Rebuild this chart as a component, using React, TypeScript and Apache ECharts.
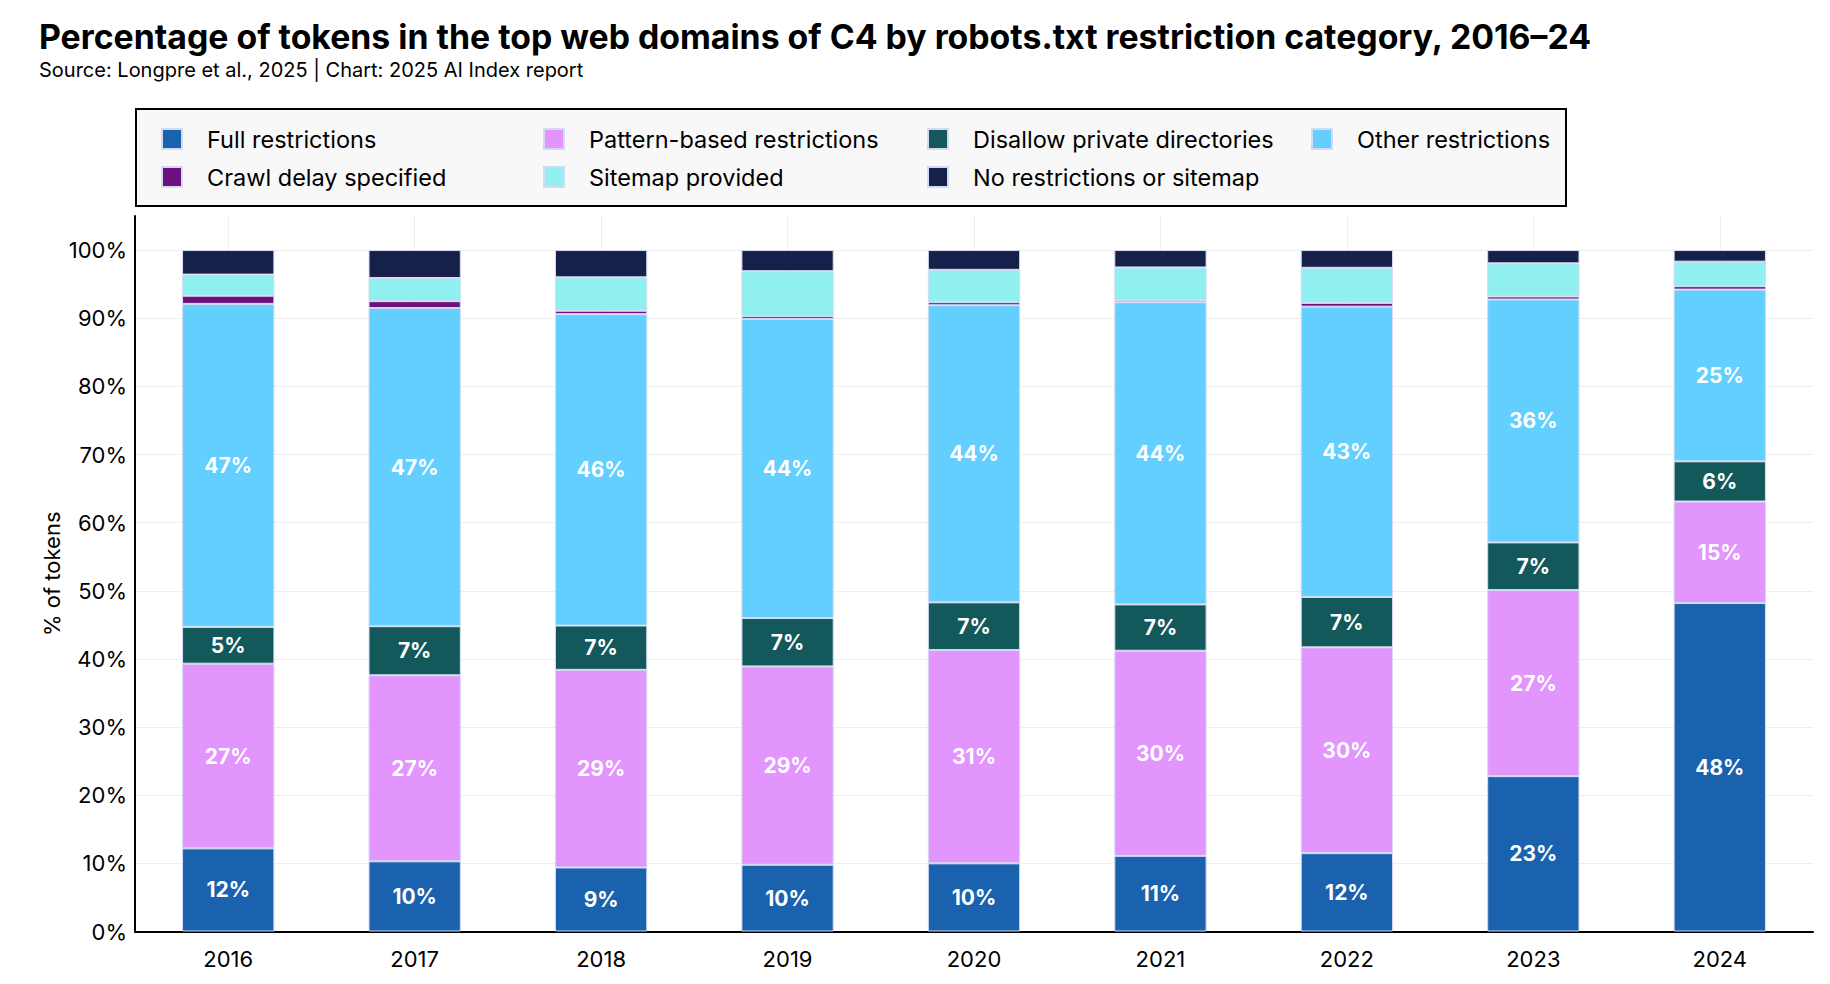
import React, { useEffect, useRef } from "react";
import * as echarts from "echarts";

const years = ["2016", "2017", "2018", "2019", "2020", "2021", "2022", "2023", "2024"];
const fullRestrictions = [12.2, 10.3, 9.4, 9.8, 10.0, 11.1, 11.5, 22.8, 48.2];
const patternBased = [27.1, 27.3, 29.0, 29.1, 31.3, 30.1, 30.2, 27.3, 14.9];
const disallowPrivate = [5.4, 7.2, 6.5, 7.1, 7.0, 6.8, 7.4, 7.0, 5.9];
const otherRestrictions = [47.4, 46.7, 45.7, 43.9, 43.6, 44.35, 42.6, 35.65, 25.2];
const crawlDelay = [1.2, 1.0, 0.5, 0.4, 0.45, 0.3, 0.55, 0.45, 0.5];
const sitemapProvided = [3.1, 3.4, 4.9, 6.6, 4.75, 4.8, 5.15, 4.85, 3.6];
const noRestrictions = [3.6, 4.1, 4.0, 3.1, 2.9, 2.55, 2.6, 1.95, 1.7];

const seriesDefs = [
  { name: "Full restrictions", data: fullRestrictions, color: "#1a62ad", label: true },
  { name: "Pattern-based restrictions", data: patternBased, color: "#e195fd", label: true },
  { name: "Disallow private directories", data: disallowPrivate, color: "#13585b", label: true },
  { name: "Other restrictions", data: otherRestrictions, color: "#62cffe", label: true },
  { name: "Crawl delay specified", data: crawlDelay, color: "#6c107e", label: false },
  { name: "Sitemap provided", data: sitemapProvided, color: "#90f0ef", label: false },
  { name: "No restrictions or sitemap", data: noRestrictions, color: "#15214b", label: false },
];

const legendLayout = [
  { name: "Full restrictions", left: 153, center: 131 },
  { name: "Pattern-based restrictions", left: 535, center: 131 },
  { name: "Disallow private directories", left: 919, center: 131 },
  { name: "Other restrictions", left: 1303, center: 131 },
  { name: "Crawl delay specified", left: 153, center: 169 },
  { name: "Sitemap provided", left: 535, center: 169 },
  { name: "No restrictions or sitemap", left: 919, center: 169 },
];

const FONT = "Inter, 'Noto Sans', sans-serif";

export default function App() {
  const ref = useRef<HTMLDivElement>(null);
  useEffect(() => {
    if (!ref.current) return;
    const chart = echarts.init(ref.current, null, { renderer: "svg" });
    const option: any = {
      animation: false,
      backgroundColor: "#ffffff",
      textStyle: { fontFamily: FONT, color: "#000" },
      title: [
        {
          text: "Percentage of tokens in the top web domains of C4 by robots.txt restriction category, 2016–24",
          left: 31,
          top: 9,
          padding: 0,
          textStyle: { fontFamily: FONT, fontSize: 33.8, fontWeight: "bold", color: "#000", lineHeight: 38 },
        },
        {
          text: "Source: Longpre et al., 2025 | Chart: 2025 AI Index report",
          left: 31,
          top: 51,
          padding: 0,
          textStyle: { fontFamily: FONT, fontSize: 20, fontWeight: "normal", color: "#000", lineHeight: 22 },
        },
      ],
      graphic: [
        {
          type: "rect",
          left: 127,
          top: 100,
          z: -10,
          shape: { width: 1430, height: 97 },
          style: { fill: "#f8f8f8", stroke: "#000", lineWidth: 2 },
        },
      ],
      legend: legendLayout.map((l) => ({
        data: [l.name],
        left: l.left,
        top: l.center - 12,
        padding: 0,
        itemWidth: 20,
        itemHeight: 20,
        icon: "rect",
        selectedMode: false,
        textStyle: { fontFamily: FONT, fontSize: 23.5, color: "#000", lineHeight: 24, padding: [0, 0, 0, 20] },
      })),
      grid: { left: 127, right: 9, top: 208, bottom: 44.5, containLabel: false },
      xAxis: {
        type: "category",
        data: years,
        axisLine: { show: true, lineStyle: { color: "#000", width: 2 } },
        axisTick: { show: false },
        axisLabel: { fontFamily: FONT, fontSize: 22, color: "#000", margin: 16 },
        splitLine: { show: true, alignWithLabel: true, lineStyle: { color: "#eeeeee", width: 1 } },
      },
      yAxis: {
        type: "value",
        min: 0,
        max: 105,
        interval: 10,
        name: "% of tokens",
        nameLocation: "middle",
        nameGap: 72,
        nameMoveOverlap: false,
        nameTextStyle: { fontFamily: FONT, fontSize: 22, color: "#000" },
        axisLine: { show: true, lineStyle: { color: "#000", width: 2 } },
        axisTick: { show: false },
        axisLabel: {
          fontFamily: FONT,
          fontSize: 22,
          color: "#000",
          margin: 8,
          showMaxLabel: false,
          formatter: (v: number) => (v > 100 ? "" : v + "%"),
        },
        splitLine: { show: true, showMaxLine: false, lineStyle: { color: "#eeeeee", width: 1 } },
      },
      series: seriesDefs.map((s) => ({
        name: s.name,
        type: "bar",
        stack: "total",
        barWidth: "49.5%",
        data: s.data,
        itemStyle: { color: s.color, borderColor: "#d3daf2", borderWidth: 1 },
        label: {
          show: s.label,
          position: "inside",
          color: "#fff",
          fontFamily: FONT,
          fontWeight: "bold",
          fontSize: 21,
          formatter: (p: any) => Math.round(p.value) + "%",
        },
        emphasis: { disabled: true },
      })),
    };
    chart.setOption(option);
    return () => chart.dispose();
  }, []);
  return <div ref={ref} style={{ width: 1814, height: 968 }} />;
}
